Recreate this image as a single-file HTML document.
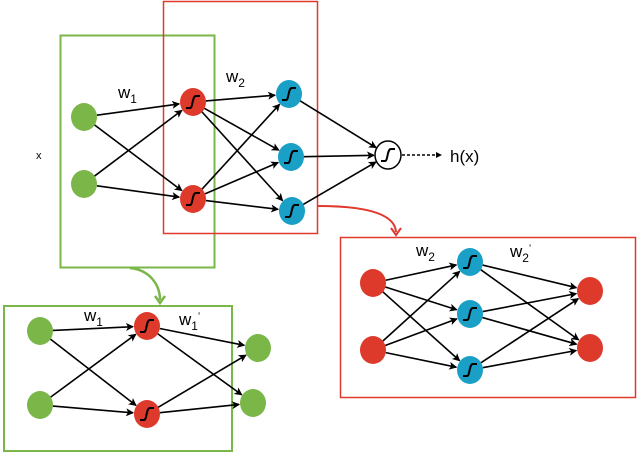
<!DOCTYPE html>
<html><head><meta charset="utf-8"><style>
html,body{margin:0;padding:0;background:#fff;width:640px;height:455px;overflow:hidden}
svg{display:block}
text{font-family:"Liberation Sans",sans-serif;fill:#000}
</style></head><body>
<svg id="s" width="640" height="455" viewBox="0 0 640 455" xmlns="http://www.w3.org/2000/svg">
<defs>
<marker id="a" markerWidth="8" markerHeight="8" refX="7" refY="4" orient="auto" markerUnits="userSpaceOnUse"><path d="M0,0 L8,4 L0,8 L2,4 z" fill="#000"/></marker>
</defs>
<rect x="60.5" y="35.5" width="154" height="232" fill="none" stroke="#7ab648" stroke-width="2"/>
<rect x="163.5" y="1.5" width="154" height="232" fill="none" stroke="#e03a2f" stroke-width="1.5"/>
<rect x="340.5" y="237.5" width="295" height="160" fill="none" stroke="#e03a2f" stroke-width="1.5"/>
<rect x="4" y="306" width="228" height="145" fill="none" stroke="#7ab648" stroke-width="2"/>
<path d="M318,206 C370,206 395,215 396,232" fill="none" stroke="#e03a2f" stroke-width="2"/>
<path d="M391,228 L396,235 L401,228" fill="none" stroke="#e03a2f" stroke-width="2"/>
<path d="M130,268 C150,270 160,285 160,300" fill="none" stroke="#7ab648" stroke-width="2.5"/>
<path d="M155,296 L160,303 L165,296" fill="none" stroke="#7ab648" stroke-width="2.5"/>
<g id="e" stroke="#000" stroke-width="1.6" fill="none"></g>
<g id="n"></g>
<line x1="402" y1="155" x2="440" y2="155" stroke="#000" stroke-width="1.4" stroke-dasharray="3,2"/>
<path d="M436,152 L442,155 L436,158 z"/>
<text x="36" y="159" font-size="11">x</text>
<text x="450" y="162" font-size="17" font-family="Liberation Serif">h(x)</text>
<text x="118" y="98" font-size="17">w<tspan font-size="12" dy="5">1</tspan></text>
<text x="226" y="82" font-size="17">w<tspan font-size="12" dy="5">2</tspan></text>
<text x="416" y="256" font-size="17">w<tspan font-size="12" dy="5">2</tspan></text>
<text x="510" y="257" font-size="17">w<tspan font-size="12" dy="5">2</tspan><tspan font-size="10" dy="-11">‘</tspan></text>
<text x="84" y="321" font-size="17">w<tspan font-size="12" dy="5">1</tspan></text>
<text x="179" y="325" font-size="17">w<tspan font-size="12" dy="5">1</tspan><tspan font-size="10" dy="-11">‘</tspan></text>
</svg>
<script>
var G='#7ab648',R='#dd3a2c',B='#1aa0c6',W='#fff';
var nets=[
 {L:[[[84,117,G],[84,184,G]],[[193,102,R],[193,199,R]],[[289,94,B],[291,157,B],[292,211,B]],[[388,155,W]]],sig:[1,2,3],r:13},
 {L:[[[373,283,R],[373,350,R]],[[470,262,B],[470,314,B],[470,370,B]],[[590,291,R],[590,348,R]]],sig:[1],r:13},
 {L:[[[40,331,G],[40,405,G]],[[147,326,R],[147,414,R]],[[258,348,G],[253,403,G]]],sig:[1],r:13}
];
var ns='http://www.w3.org/2000/svg',e=document.getElementById('e'),n=document.getElementById('n');
function mk(t,a,p){var x=document.createElementNS(ns,t);for(var k in a)x.setAttribute(k,a[k]);p.appendChild(x);return x;}
nets.forEach(function(N){
 for(var i=0;i<N.L.length-1;i++)N.L[i].forEach(function(a){N.L[i+1].forEach(function(b){
  var dx=b[0]-a[0],dy=b[1]-a[1],d=Math.hypot(dx,dy),r=N.r;
  mk('line',{x1:a[0]+dx/d*r,y1:a[1]+dy/d*r,x2:b[0]-dx/d*(r+1),y2:b[1]-dy/d*(r+1),'marker-end':'url(#a)'},e);
 });});
 N.L.forEach(function(l,i){l.forEach(function(p){
  mk('ellipse',{cx:p[0],cy:p[1],rx:N.r,ry:N.r+1,fill:p[2],stroke:p[2]==W?'#000':'none','stroke-width':1.5},n);
  if(N.sig.indexOf(i)>=0)mk('path',{d:'M'+(p[0]-7)+','+(p[1]+6)+' L'+(p[0]-3)+','+(p[1]+6)+' C'+(p[0])+','+(p[1]+6)+' '+(p[0]-1)+','+(p[1]-6)+' '+(p[0]+3)+','+(p[1]-6)+' L'+(p[0]+7)+','+(p[1]-6),fill:'none',stroke:'#000','stroke-width':2},n);
 });});
});
</script>
</body></html>
